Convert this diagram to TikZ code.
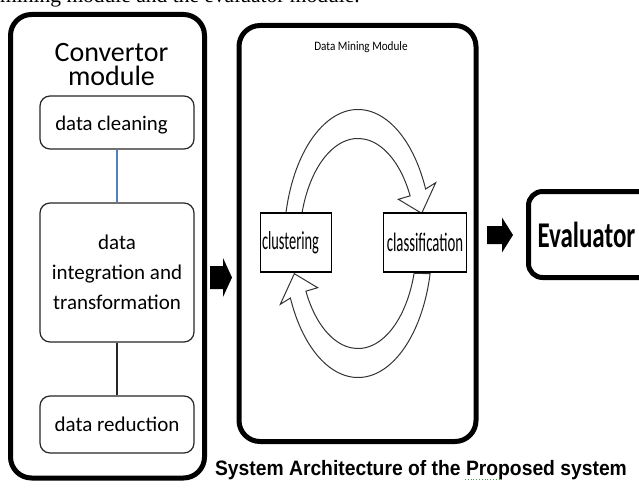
\documentclass[tikz,border=0pt]{standalone}
\usepackage{fontspec}
\setmainfont{Carlito}
\newfontfamily\capfont{Liberation Sans}
\newfontfamily\bodyserif{Liberation Serif}
\usetikzlibrary{calc}
\definecolor{linkblue}{RGB}{79,129,189}
\definecolor{spellgreen}{RGB}{70,160,70}
\newcommand\vstretch[2]{\scalebox{1}[#1]{#2}}
\tikzset{
  pics/fatarrow/.style n args={4}{code={
    \fill[black] (0,#3) -- (#1,#3) -- (#1,#4) -- ({#1+#2},0) -- (#1,-#4) -- (#1,-#3) -- (0,-#3) -- cycle;}},
  pics/looparc/.style={code={
    \draw[looparrow] (167:74 and 134) arc[start angle=167, end angle=24, x radius=74, y radius=134]
      -- (77.7,60.8) -- (63.7,30.2) -- (40.3,44.2)
      -- (27:58.5 and 105) arc[start angle=27, end angle=163.5, x radius=58.5, y radius=105] -- cycle;}}
}
\begin{document}
\begin{tikzpicture}[x=1pt,y=1pt,
  module/.style={draw=black, line width=5pt, rounded corners=21pt, fill=white, inner sep=0pt},
  stagebox/.style={draw=black!85, line width=1.2pt, rounded corners=10pt, fill=white, minimum width=154pt,
    inner sep=0pt, align=center, font=\fontsize{21}{30}\selectfont},
  algobox/.style={draw=black, line width=1.8pt, fill=white, inner sep=0pt, minimum height=58.5pt},
  looparrow/.style={draw=black!80, line width=1pt, fill=white, line join=miter}
]
\useasboundingbox (0,0) rectangle (639,488);
\clip (0,0) rectangle (639,488);
\fill[white] (0,0) rectangle (639,488);

% cut-off line of body text at the top
\node[font=\bodyserif\fontsize{21.5}{24}\selectfont, anchor=base west, inner sep=0pt] (toptext) at (0,485.5)
  {mining module and the evaluator module.};

% Convertor module
\node[module, minimum width=194pt, minimum height=463.5pt] (conv) at (107.5,241.75) {};
\node[font=\fontsize{28}{24}\selectfont, align=center, inner sep=0pt] (convtitle) at (111.5,423.6) {Convertor\\module};
\node[stagebox, minimum height=53pt, text height=21.2pt, text depth=4.2pt, font=\fontsize{20.8}{24}\selectfont] (clean) at (117,365.5) {data cleaning\hspace{11pt}};
\node[stagebox, minimum height=139pt] (integ) at (117,215.5) {data\\integration and\\transformation};
\node[stagebox, minimum height=57pt] (reduc) at (117,63.5) {data reduction};
\draw[linkblue, line width=1.2pt] (clean.south) -- (integ.north);
\draw[black!85, line width=1.2pt] (integ.south) -- (reduc.north);

% arrow to data mining module
\coordinate (a1) at (210,210.5);
\pic at (a1) {fatarrow={13}{9}{11.5}{19.5}};

% Data Mining module
\node[module, minimum width=237pt, minimum height=416pt] (dm) at (357.5,254.5) {};
\node[font=\fontsize{11.2}{13}\selectfont, inner sep=0pt] (dmtitle) at (361,440.7) {\vstretch{1.15}{Data Mining Module}};
\coordinate (loopc) at (358,244.5);
\pic at (loopc) {looparc};
\pic[rotate=180] at (loopc) {looparc};
\node[algobox, minimum width=71pt, text width=68pt, align=left, font=\fontsize{14.4}{16}\selectfont] (clust) at (296,245.5) {\vstretch{1.8}{clustering}};
\node[algobox, minimum width=83pt, font=\fontsize{14.8}{16}\selectfont] (classif) at (425,245.5) {\vstretch{1.8}{classification}};

% arrow to evaluator
\coordinate (a2) at (487,253);
\pic at (a2) {fatarrow={15}{11}{9}{17.5}};

% Evaluator
\node[module, rounded corners=14pt, anchor=west, minimum height=86pt, text width=130pt, align=left,
  inner xsep=9pt, font=\bfseries\fontsize{25}{28}\selectfont] (eval) at (526,253.5) {\vstretch{1.45}{Evaluator}};

% caption
\node[font=\capfont\bfseries\fontsize{19.3}{22}\selectfont, anchor=base, inner sep=0pt] (caption) at (421,13)
  {\vstretch{1.08}{System Architecture of the Proposed system}};
\draw[spellgreen, dotted, line width=0.8pt] (465,9) -- (502,9);
\end{tikzpicture}
\end{document}
